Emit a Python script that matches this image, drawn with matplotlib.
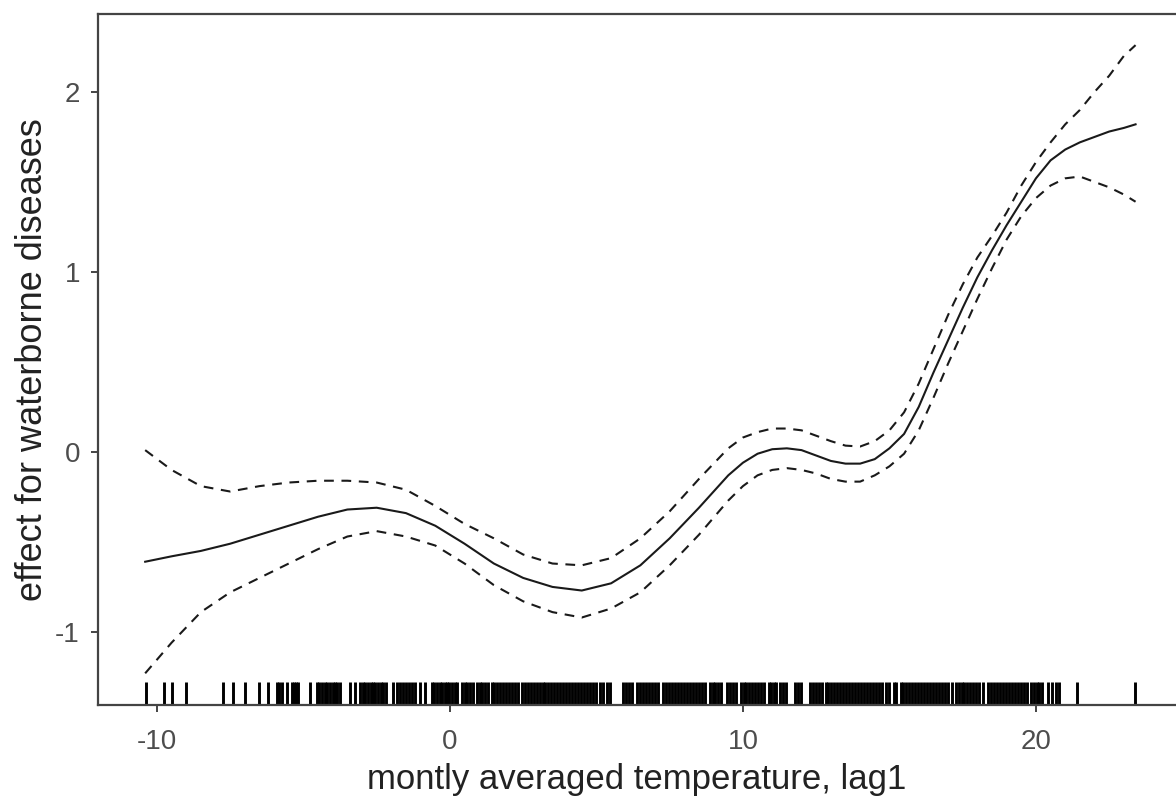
import matplotlib
matplotlib.use("Agg")
import matplotlib.pyplot as plt
import numpy as np

# Smooth term estimate (solid) and its confidence band (dashed)
temp = [-10.4, -9.5, -8.5, -7.5, -6.5, -5.5, -4.5, -3.5, -2.5, -1.5, -0.5,
        0.5, 1.5, 2.5, 3.5, 4.5, 5.5, 6.5, 7.5, 8.5, 9.5, 10.0, 10.5, 11.0, 11.5,
        12.0, 12.5, 13.0, 13.5, 14.0, 14.5, 15.0, 15.5, 16.0, 16.5, 17.0, 17.5,
        18.0, 18.5, 19.0, 19.5, 20.0, 20.5, 21.0, 21.5, 22.0, 22.5, 23.0, 23.4]
fit = [-0.61, -0.58, -0.55, -0.51, -0.46, -0.41, -0.36, -0.32, -0.31, -0.34, -0.41,
       -0.51, -0.62, -0.70, -0.75, -0.77, -0.73, -0.63, -0.48, -0.31, -0.13, -0.06, -0.01, 0.015, 0.02,
       0.01, -0.02, -0.05, -0.065, -0.065, -0.04, 0.02, 0.10, 0.25, 0.44, 0.62, 0.80,
       0.97, 1.12, 1.26, 1.39, 1.52, 1.62, 1.68, 1.72, 1.75, 1.78, 1.80, 1.82]
upper = [0.01, -0.10, -0.19, -0.22, -0.19, -0.17, -0.16, -0.16, -0.17, -0.21, -0.30,
         -0.40, -0.48, -0.57, -0.62, -0.63, -0.59, -0.48, -0.33, -0.15, 0.02, 0.08, 0.11, 0.13, 0.13,
         0.12, 0.09, 0.06, 0.035, 0.03, 0.06, 0.12, 0.22, 0.38, 0.57, 0.76, 0.93,
         1.08, 1.20, 1.33, 1.48, 1.61, 1.72, 1.82, 1.90, 2.00, 2.09, 2.20, 2.26]
lower = [-1.23, -1.06, -0.89, -0.78, -0.70, -0.62, -0.54, -0.47, -0.44, -0.47, -0.52,
         -0.62, -0.74, -0.83, -0.89, -0.92, -0.87, -0.78, -0.63, -0.46, -0.27, -0.19, -0.13, -0.10, -0.09,
         -0.10, -0.12, -0.15, -0.165, -0.165, -0.13, -0.08, -0.01, 0.12, 0.30, 0.49, 0.67,
         0.85, 1.02, 1.18, 1.31, 1.41, 1.48, 1.52, 1.53, 1.50, 1.47, 1.43, 1.39]

# observed temperatures (rug)
rug = [-10.38, -9.76, -9.5, -9.01, -7.76, -7.39, -7.0, -6.51, -6.2,
       -5.9, -5.82, -5.74, -5.57, -5.4, -5.32, -5.24, -5.17, -4.78,
       -4.55, -4.46, -4.37, -4.28, -4.19, -4.1, -4.0, -3.92, -3.84, -3.76,
       -3.41, -3.24, -3.07, -2.98, -2.89, -2.8, -2.71, -2.62,
       -2.54, -2.45, -2.36, -2.27, -2.18, -1.94, -1.82, -1.71,
       -1.6, -1.5, -1.4, -1.3, -1.2, -1.02, -0.85,
       -0.62, -0.53, -0.44, -0.35, -0.26, -0.17, -0.1, -0.02, 0.07, 0.16, 0.25,
       0.4, 0.5, 0.6, 0.7, 0.8, 0.91, 1.01, 1.11, 1.21, 1.31,
       1.42, 1.52, 1.62, 1.72, 1.82, 1.93, 2.03, 2.13, 2.23, 2.33, 2.45,
       2.56, 2.66, 2.76, 2.86, 2.96, 3.07, 3.16, 3.24,
       3.35, 3.45, 3.55, 3.65, 3.75, 3.86, 3.96, 4.06, 4.16, 4.26,
       4.37, 4.47, 4.57, 4.67, 4.77, 4.89, 5.0, 5.12, 5.22, 5.35, 5.46,
       5.9, 6.0, 6.1, 6.2, 6.37, 6.48, 6.58, 6.7, 6.8, 6.9, 7.0, 7.1,
       7.28, 7.38, 7.48, 7.58, 7.68, 7.79, 7.89, 7.99, 8.09, 8.19,
       8.3, 8.4, 8.5, 8.6, 8.7, 8.87, 8.98, 9.06, 9.16, 9.26,
       9.46, 9.56, 9.66, 9.76, 9.92, 10.02, 10.12, 10.22, 10.3,
       10.42, 10.52, 10.62, 10.72, 10.88, 10.96, 11.05, 11.14,
       11.28, 11.38, 11.48, 11.78, 11.88, 11.98,
       12.3, 12.4, 12.5, 12.6, 12.7, 12.82, 12.92, 13.02, 13.12, 13.2,
       13.32, 13.42, 13.52, 13.62, 13.72, 13.84, 13.94, 14.04, 14.14, 14.22,
       14.34, 14.44, 14.54, 14.64, 14.74, 14.87, 15.0, 15.14, 15.24,
       15.38, 15.48, 15.58, 15.68, 15.76, 15.88, 15.98, 16.08, 16.18, 16.28,
       16.4, 16.5, 16.6, 16.7, 16.8, 16.9, 17.0, 17.12,
       17.26, 17.36, 17.46, 17.56, 17.64, 17.76, 17.86, 17.96, 18.06, 18.18,
       18.38, 18.48, 18.58, 18.68, 18.76, 18.88, 18.98, 19.08, 19.18, 19.28,
       19.38, 19.48, 19.58, 19.68, 19.82, 19.92, 20.02, 20.12, 20.2,
       20.4, 20.55, 20.68, 20.79, 21.4, 23.38]

xticks = [-10, 0, 10, 20]
yticks = [-1, 0, 1, 2]

plt.rcParams['font.family'] = ['Liberation Sans', 'DejaVu Sans']
plt.rcParams['lines.scale_dashes'] = False
plt.rcParams['axes.unicode_minus'] = False

fig = plt.figure(figsize=(11.76, 8.01), dpi=100)
ax = fig.add_axes([98 / 1176, 1 - 705 / 801, 1 - 98 / 1176, (705 - 14) / 801])

ax.plot(temp, fit, color="#1a1a1a", lw=1.5, solid_joinstyle="round")
ax.plot(temp, upper, color="#1a1a1a", lw=1.5, dashes=(7, 5.5))
ax.plot(temp, lower, color="#1a1a1a", lw=1.5, dashes=(7, 5.5))

# rug along the bottom
ax.vlines(rug, 0, 0.033, transform=ax.get_xaxis_transform(), color="black", lw=2.1)

ax.set_xlim(-12.01, 24.78)
ax.set_ylim(-1.406, 2.433)
ax.set_xticks(xticks)
ax.set_yticks(yticks)

for side in ["left", "bottom", "top"]:
    ax.spines[side].set_color("#444444")
    ax.spines[side].set_linewidth(1.6)
ax.spines["right"].set_visible(False)

ax.tick_params(axis="both", direction="out", length=5, width=1.4, color="#444444",
               labelsize=20, labelcolor="#4d4d4d")
ax.tick_params(axis="x", pad=12)
ax.tick_params(axis="y", pad=8)

ax.set_xlabel("montly averaged temperature, lag1", fontsize=25, color="#222222", labelpad=6)
ax.set_ylabel("effect for waterborne diseases", fontsize=26, color="#222222", labelpad=4)

fig.savefig("out.png", dpi=100)
